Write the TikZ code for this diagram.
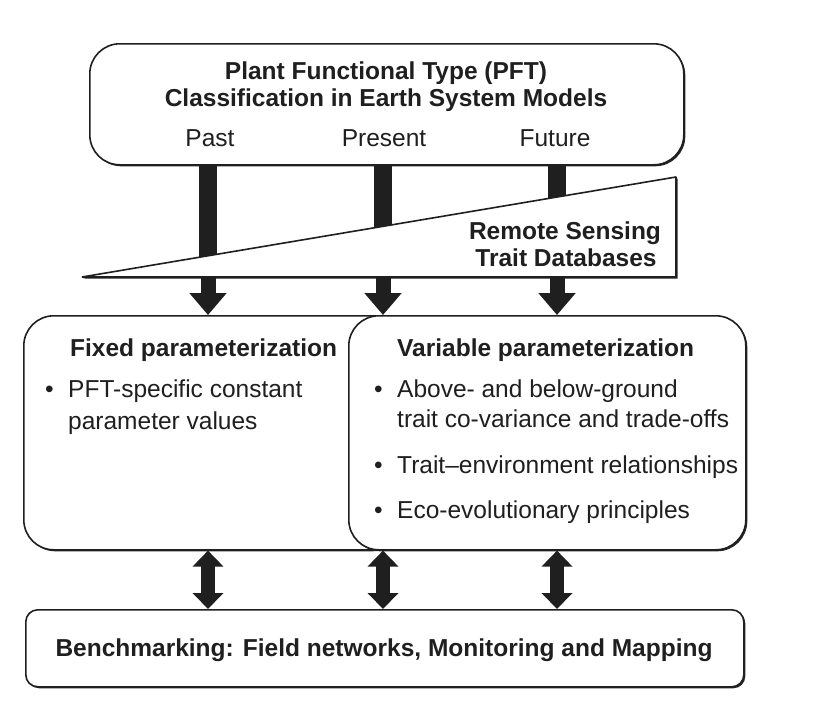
\documentclass[tikz,border=0pt]{standalone}
\usepackage{fontspec}
\setmainfont{Liberation Sans}
\usetikzlibrary{arrows.meta,shadows}
\begin{document}
\begin{tikzpicture}[x=1pt,y=-1pt,
  shad/.style={drop shadow={shadow xshift=1.5pt, shadow yshift=-1.5pt, fill=black!85, opacity=1}},
  box/.style={draw=black!88, line width=1.6pt, fill=white, rounded corners=30pt, shad, inner sep=0pt},
  txt/.style={font=\fontsize{24.5}{29}\selectfont, inner sep=0pt, text=black!88},
  btxt/.style={font=\fontsize{24.5}{29}\selectfont\bfseries, inner sep=0pt, text=black!88},
  stem/.style={line width=18pt, draw=black!88},
  down/.style={line width=15pt, draw=black!88, -{Triangle[width=36pt,length=22pt]}},
  both/.style={line width=14pt, draw=black!88, {Triangle[width=30pt,length=16pt]}-{Triangle[width=30pt,length=16pt]}},
]
\useasboundingbox (0,0) rectangle (813,707);
\fill[white] (0,0) rectangle (813,707);

% boxes
\node[box, anchor=north west, minimum width=594pt, minimum height=121pt] (top) at (89,43) {};
\node[box, anchor=north west, minimum width=377pt, minimum height=234pt] (left) at (23,315) {};
\node[box, anchor=north west, minimum width=397pt, minimum height=234pt] (right) at (348,315) {};
\node[box, rounded corners=12pt, anchor=north west, minimum width=718pt, minimum height=77pt] (bench) at (25,609) {};

% arrow columns
\coordinate (xa) at (208,0);
\coordinate (xb) at (383,0);
\coordinate (xc) at (557,0);

% wedge corners
\coordinate (w1) at (82,277);
\coordinate (w2) at (676,177);
\coordinate (w3) at (676,277);

% stems from the PFT box, partly hidden by the wedge
\draw[stem] (top.south -| xa) -- (xa |- w1);
\draw[stem] (top.south -| xb) -- (xb |- w1);
\draw[stem] (top.south -| xc) -- (xc |- w1);

% wedge
\draw[draw=black!88, fill=white, line width=1.6pt, line join=bevel, shad]
  (w1) -- (w2) -- (w3) -- cycle;

% arrows into the parameterization boxes
\draw[down] (xa |- w1) -- (left.north -| xa);
\draw[down] (xb |- w1) -- (right.north -| xb);
\draw[down] (xc |- w1) -- (right.north -| xc);

% double arrows to benchmarking
\draw[both] (left.south -| xa) -- (bench.north -| xa);
\draw[both] (left.south -| xb) -- (bench.north -| xb);
\draw[both] (right.south -| xc) -- (bench.north -| xc);

% texts
\node[btxt, anchor=base] (t1) at (386,79) {Plant Functional Type (PFT)};
\node[btxt, anchor=base] (t2) at (386,106) {Classification in Earth System Models};
\node[txt, anchor=base] (past) at (210,146) {Past};
\node[txt, anchor=base] (pres) at (384,146) {Present};
\node[txt, anchor=base] (fut) at (555,146) {Future};

\node[btxt, anchor=base] (rs) at (565,239) {Remote Sensing};
\node[btxt, anchor=base] (td) at (566,266) {Trait Databases};

\node[btxt, anchor=base west] (fx) at (70,356) {Fixed parameterization};
\node[txt, anchor=base west] (b1) at (45,397) {•};
\node[txt, anchor=base west] (f1) at (68,397) {PFT-specific constant};
\node[txt, anchor=base west] (f2) at (68,429) {parameter values};

\node[btxt, anchor=base west] (vp) at (397,356) {Variable parameterization};
\node[txt, anchor=base west] (b2) at (374,397) {•};
\node[txt, anchor=base west] (v1) at (397,397) {Above- and below-ground};
\node[txt, anchor=base west] (v2) at (397,427) {trait co-variance and trade-offs};
\node[txt, anchor=base west] (b3) at (374,473) {•};
\node[txt, anchor=base west] (v3) at (397,473) {Trait–environment relationships};
\node[txt, anchor=base west] (b4) at (374,518) {•};
\node[txt, anchor=base west] (v4) at (397,518) {Eco-evolutionary principles};

\node[btxt, anchor=base] (bm) at (384,656) {Benchmarking: Field networks, Monitoring and Mapping};
\end{tikzpicture}
\end{document}
